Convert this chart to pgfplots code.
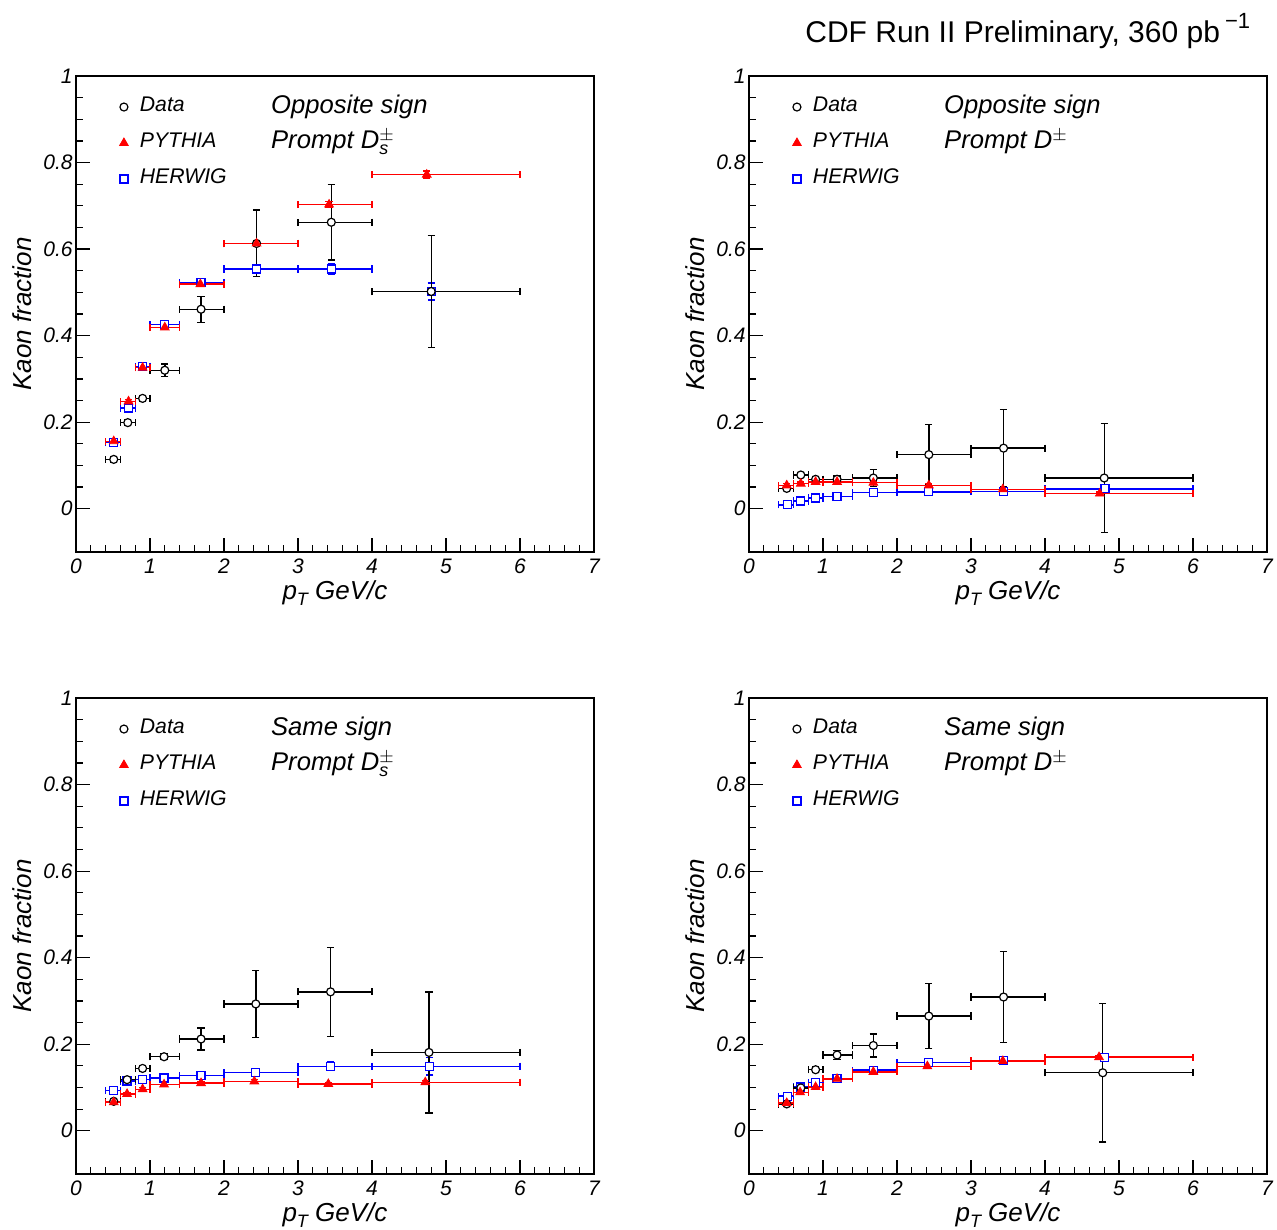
\documentclass[border=0pt]{standalone}
\usepackage{pgfplots}
\usepackage{pgfplotstable}
\pgfplotsset{compat=1.18}
\usepackage{fontspec}
\setmainfont{Liberation Sans}

% columns: x lo hi y ey
\pgfplotstableread{
x lo hi y ey
0.51 0.4 0.6 0.114 0.006
0.70 0.6 0.8 0.199 0.006
0.90 0.8 1.0 0.255 0.006
1.20 1.0 1.4 0.320 0.014
1.69 1.4 2.0 0.461 0.030
2.44 2.0 3.0 0.613 0.077
3.45 3.0 4.0 0.662 0.087
4.80 4.0 6.0 0.502 0.130
}\AData
\pgfplotstableread{
x lo hi y ey
0.51 0.4 0.6 0.156 0.004
0.71 0.6 0.8 0.248 0.004
0.90 0.8 1.0 0.326 0.005
1.20 1.0 1.4 0.419 0.005
1.68 1.4 2.0 0.519 0.006
2.44 2.0 3.0 0.613 0.006
3.42 3.0 4.0 0.703 0.007
4.74 4.0 6.0 0.772 0.008
}\APyth
\pgfplotstableread{
x lo hi y ey
0.51 0.4 0.6 0.153 0.004
0.71 0.6 0.8 0.233 0.004
0.90 0.8 1.0 0.329 0.005
1.20 1.0 1.4 0.426 0.005
1.69 1.4 2.0 0.523 0.006
2.44 2.0 3.0 0.554 0.008
3.45 3.0 4.0 0.554 0.012
4.80 4.0 6.0 0.502 0.020
}\AHerw

\pgfplotstableread{
x lo hi y ey
0.51 0.4 0.6 0.047 0.005
0.70 0.6 0.8 0.078 0.005
0.90 0.8 1.0 0.068 0.006
1.19 1.0 1.4 0.068 0.008
1.68 1.4 2.0 0.071 0.020
2.43 2.0 3.0 0.125 0.070
3.44 3.0 4.0 0.140 0.090
4.80 4.0 6.0 0.071 0.126
}\BData
\pgfplotstableread{
x lo hi y ey
0.51 0.4 0.6 0.054 0.004
0.70 0.6 0.8 0.058 0.004
0.90 0.8 1.0 0.062 0.004
1.19 1.0 1.4 0.062 0.004
1.68 1.4 2.0 0.060 0.004
2.43 2.0 3.0 0.054 0.004
3.43 3.0 4.0 0.045 0.004
4.74 4.0 6.0 0.035 0.004
}\BPyth
\pgfplotstableread{
x lo hi y ey
0.52 0.4 0.6 0.009 0.003
0.70 0.6 0.8 0.018 0.003
0.90 0.8 1.0 0.025 0.003
1.19 1.0 1.4 0.028 0.003
1.68 1.4 2.0 0.037 0.003
2.43 2.0 3.0 0.039 0.003
3.44 3.0 4.0 0.040 0.003
4.81 4.0 6.0 0.046 0.003
}\BHerw

\pgfplotstableread{
x lo hi y ey
0.51 0.4 0.6 0.068 0.005
0.69 0.6 0.8 0.118 0.005
0.90 0.8 1.0 0.144 0.006
1.19 1.0 1.4 0.171 0.007
1.69 1.4 2.0 0.212 0.025
2.43 2.0 3.0 0.293 0.077
3.44 3.0 4.0 0.321 0.103
4.77 4.0 6.0 0.181 0.140
}\CData
\pgfplotstableread{
x lo hi y ey
0.51 0.4 0.6 0.066 0.004
0.69 0.6 0.8 0.085 0.004
0.90 0.8 1.0 0.096 0.004
1.19 1.0 1.4 0.107 0.004
1.69 1.4 2.0 0.110 0.004
2.41 2.0 3.0 0.114 0.004
3.41 3.0 4.0 0.108 0.004
4.72 4.0 6.0 0.112 0.004
}\CPyth
\pgfplotstableread{
x lo hi y ey
0.51 0.4 0.6 0.093 0.004
0.69 0.6 0.8 0.115 0.004
0.90 0.8 1.0 0.119 0.004
1.19 1.0 1.4 0.122 0.004
1.69 1.4 2.0 0.128 0.004
2.43 2.0 3.0 0.134 0.005
3.44 3.0 4.0 0.149 0.010
4.78 4.0 6.0 0.149 0.020
}\CHerw

\pgfplotstableread{
x lo hi y ey
0.51 0.4 0.6 0.062 0.005
0.70 0.6 0.8 0.099 0.006
0.90 0.8 1.0 0.141 0.006
1.19 1.0 1.4 0.175 0.010
1.68 1.4 2.0 0.197 0.027
2.43 2.0 3.0 0.265 0.075
3.44 3.0 4.0 0.309 0.105
4.78 4.0 6.0 0.134 0.160
}\DData
\pgfplotstableread{
x lo hi y ey
0.51 0.4 0.6 0.064 0.004
0.69 0.6 0.8 0.089 0.004
0.90 0.8 1.0 0.101 0.004
1.19 1.0 1.4 0.120 0.004
1.68 1.4 2.0 0.136 0.004
2.41 2.0 3.0 0.149 0.004
3.43 3.0 4.0 0.161 0.004
4.73 4.0 6.0 0.170 0.004
}\DPyth
\pgfplotstableread{
x lo hi y ey
0.52 0.4 0.6 0.080 0.004
0.70 0.6 0.8 0.101 0.004
0.90 0.8 1.0 0.112 0.004
1.19 1.0 1.4 0.121 0.004
1.68 1.4 2.0 0.140 0.004
2.43 2.0 3.0 0.158 0.004
3.44 3.0 4.0 0.162 0.004
4.80 4.0 6.0 0.169 0.004
}\DHerw

\pgfplotsset{
  kaon/.style={
    scale only axis, width=259pt, height=238pt,
    anchor=south west,
    xmin=0, xmax=7, ymin=-0.1, ymax=1,
    xtick={0,1,2,3,4,5,6,7}, ytick={0,0.2,0.4,0.6,0.8,1},
    minor x tick num=4, minor y tick num=3,
    tick align=inside, xtick pos=bottom, ytick pos=left,
    major tick length=7pt, minor tick length=3.5pt,
    axis line style={line width=0.75pt},
    every tick/.style={black, line width=0.6pt},
    /pgf/number format/assume math mode=true,
    tick label style={font=\fontsize{10.5}{12}\selectfont\itshape},
    yticklabel style={inner xsep=1.5pt},
    xlabel={\itshape p\raisebox{-0.45ex}{\fontsize{9}{10}\selectfont T} GeV/c},
    ylabel={\itshape Kaon fraction},
    label style={font=\fontsize{13}{15}\selectfont},
    xlabel style={at={(axis description cs:0.5,-0.099)}, anchor=base},
    ylabel style={at={(axis description cs:-0.085,0.5)}, anchor=base},
    legend style={at={(axis description cs:0.0771,0.960)}, anchor=north west,
      draw=none, fill=none, inner sep=0pt, outer sep=0pt, row sep=6pt,
      font=\fontsize{10.6}{12}\selectfont\itshape,
      nodes={inner ysep=0pt, inner xsep=2pt, text height=8pt, text depth=4pt}},
    legend cell align=left,
    clip=false,
  },
  myleg/.style={legend image code/.code={\path[draw=none, fill=none] (0pt,0pt) (10pt,0pt);
      \draw[mark repeat=2,mark phase=2,##1] plot coordinates {(0pt,0pt)(4pt,0pt)(10pt,0pt)};}},
  errs/.style={/pgfplots/error bars/.cd, x dir=both, x explicit, y dir=both, y explicit,
     error bar style={line width=0.7pt, solid},
     error mark options={rotate=90, line width=0.7pt, mark size=1.8pt, solid}, /pgfplots/.cd},
  dataplot/.style={only marks, black, mark=*, mark size=2pt,
     mark options={fill=white, draw=black, line width=0.6pt}, myleg, errs},
  pythplot/.style={only marks, red, mark=triangle*, mark size=2.5pt,
     mark options={fill=red, draw=red}, myleg, errs},
  herwplot/.style={only marks, blue, mark=square*, mark size=2pt,
     mark options={fill=white, draw=blue, line width=0.6pt}, myleg, errs},
}

\begin{document}
\begin{tikzpicture}
\useasboundingbox (0,0) rectangle (638.5pt,-614.5pt);
\node[anchor=base west, inner sep=0pt, font=\fontsize{15}{18}\selectfont] at (402.5pt,-21.5pt) {CDF Run II Preliminary, 360 pb\,\raisebox{0.9ex}{\fontsize{11}{12}\selectfont −1}};

% top-left: opposite sign Ds
\begin{axis}[kaon, at={(38pt,-276pt)}]
\addplot[forget plot, herwplot] table[x=x, y=y, x error minus expr=\thisrow{x}-\thisrow{lo}, x error plus expr=\thisrow{hi}-\thisrow{x}, y error=ey] {\AHerw};
\addplot[dataplot] table[x=x, y=y, x error minus expr=\thisrow{x}-\thisrow{lo}, x error plus expr=\thisrow{hi}-\thisrow{x}, y error=ey] {\AData};
\addlegendentry{Data}
\addplot[pythplot] table[x=x, y=y, x error minus expr=\thisrow{x}-\thisrow{lo}, x error plus expr=\thisrow{hi}-\thisrow{x}, y error=ey] {\APyth};
\addlegendentry{PYTHIA}
\addlegendimage{herwplot}
\addlegendentry{HERWIG}
\node[anchor=base west, inner sep=0pt, font=\fontsize{12.8}{15}\selectfont\itshape] at (axis description cs:0.376,0.922) {Opposite sign};
\node[anchor=base west, inner sep=0pt, font=\fontsize{12.8}{15}\selectfont\itshape] at (axis description cs:0.376,0.847) {Prompt D$^{\pm}_{\mbox{\fontsize{9}{10}\selectfont\itshape s}}$};
\end{axis}

% top-right: opposite sign D+-
\begin{axis}[kaon, at={(374.5pt,-276pt)}]
\addplot[forget plot, herwplot] table[x=x, y=y, x error minus expr=\thisrow{x}-\thisrow{lo}, x error plus expr=\thisrow{hi}-\thisrow{x}, y error=ey] {\BHerw};
\addplot[dataplot] table[x=x, y=y, x error minus expr=\thisrow{x}-\thisrow{lo}, x error plus expr=\thisrow{hi}-\thisrow{x}, y error=ey] {\BData};
\addlegendentry{Data}
\addplot[pythplot] table[x=x, y=y, x error minus expr=\thisrow{x}-\thisrow{lo}, x error plus expr=\thisrow{hi}-\thisrow{x}, y error=ey] {\BPyth};
\addlegendentry{PYTHIA}
\addlegendimage{herwplot}
\addlegendentry{HERWIG}
\node[anchor=base west, inner sep=0pt, font=\fontsize{12.8}{15}\selectfont\itshape] at (axis description cs:0.376,0.922) {Opposite sign};
\node[anchor=base west, inner sep=0pt, font=\fontsize{12.8}{15}\selectfont\itshape] at (axis description cs:0.376,0.847) {Prompt D$^{\pm}$};
\end{axis}

% bottom-left: same sign Ds
\begin{axis}[kaon, at={(38pt,-587pt)}]
\addplot[forget plot, herwplot] table[x=x, y=y, x error minus expr=\thisrow{x}-\thisrow{lo}, x error plus expr=\thisrow{hi}-\thisrow{x}, y error=ey] {\CHerw};
\addplot[dataplot] table[x=x, y=y, x error minus expr=\thisrow{x}-\thisrow{lo}, x error plus expr=\thisrow{hi}-\thisrow{x}, y error=ey] {\CData};
\addlegendentry{Data}
\addplot[pythplot] table[x=x, y=y, x error minus expr=\thisrow{x}-\thisrow{lo}, x error plus expr=\thisrow{hi}-\thisrow{x}, y error=ey] {\CPyth};
\addlegendentry{PYTHIA}
\addlegendimage{herwplot}
\addlegendentry{HERWIG}
\node[anchor=base west, inner sep=0pt, font=\fontsize{12.8}{15}\selectfont\itshape] at (axis description cs:0.376,0.922) {Same sign};
\node[anchor=base west, inner sep=0pt, font=\fontsize{12.8}{15}\selectfont\itshape] at (axis description cs:0.376,0.847) {Prompt D$^{\pm}_{\mbox{\fontsize{9}{10}\selectfont\itshape s}}$};
\end{axis}

% bottom-right: same sign D+-
\begin{axis}[kaon, at={(374.5pt,-587pt)}]
\addplot[forget plot, herwplot] table[x=x, y=y, x error minus expr=\thisrow{x}-\thisrow{lo}, x error plus expr=\thisrow{hi}-\thisrow{x}, y error=ey] {\DHerw};
\addplot[dataplot] table[x=x, y=y, x error minus expr=\thisrow{x}-\thisrow{lo}, x error plus expr=\thisrow{hi}-\thisrow{x}, y error=ey] {\DData};
\addlegendentry{Data}
\addplot[pythplot] table[x=x, y=y, x error minus expr=\thisrow{x}-\thisrow{lo}, x error plus expr=\thisrow{hi}-\thisrow{x}, y error=ey] {\DPyth};
\addlegendentry{PYTHIA}
\addlegendimage{herwplot}
\addlegendentry{HERWIG}
\node[anchor=base west, inner sep=0pt, font=\fontsize{12.8}{15}\selectfont\itshape] at (axis description cs:0.376,0.922) {Same sign};
\node[anchor=base west, inner sep=0pt, font=\fontsize{12.8}{15}\selectfont\itshape] at (axis description cs:0.376,0.847) {Prompt D$^{\pm}$};
\end{axis}
\end{tikzpicture}
\end{document}
